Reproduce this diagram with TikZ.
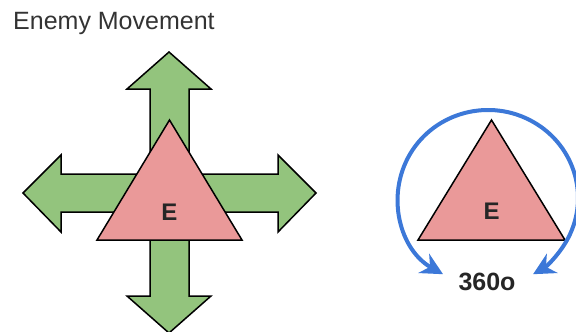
\documentclass[tikz,border=0pt]{standalone}
\usepackage{fontspec}
\setmainfont{Liberation Sans}
\usetikzlibrary{arrows.meta}
\definecolor{gfill}{HTML}{93C47D}
\definecolor{rfill}{HTML}{EA9999}
\definecolor{bline}{HTML}{3C78D8}
\definecolor{tgray}{HTML}{333333}
\tikzset{
  shapeline/.style={draw=black, line width=1.5pt, line join=miter},
  arrowshape/.style={shapeline, fill=gfill},
  tri/.style={shapeline, fill=rfill},
  label/.style={font=\bfseries\fontsize{24}{26}\selectfont, text=black!85},
  turn/.style={draw=bline, line width=4pt, {Stealth[length=22pt,width=22pt]}-{Stealth[length=22pt,width=22pt]}}
}
\begin{document}
\begin{tikzpicture}[x=1pt,y=-1pt]
\useasboundingbox (0,0) rectangle (576,332);
% title
\node[anchor=west, inner sep=0pt, text=tgray, font=\fontsize{25}{27}\selectfont] (title) at (13,23) {Enemy Movement};
% cross of arrows
\path[arrowshape] (169,52) -- (211,89) -- (189,89) -- (189,174) -- (278,174) -- (278,155)
  -- (316,193) -- (278,232) -- (278,212) -- (189,212) -- (189,296) -- (211,296)
  -- (169,333) -- (127,296) -- (150,296) -- (150,212) -- (61,212) -- (61,232)
  -- (23,193) -- (61,155) -- (61,174) -- (150,174) -- (150,89) -- (127,89) -- cycle;
% left triangle
\path[tri] (169.5,120) -- (242,240) -- (97,240) -- cycle;
\node[label] (e1) at (169.5,212) {E};
% right triangle
\path[tri] (491.5,120) -- (565,240) -- (418,240) -- cycle;
\node[label] (e2) at (491.5,211) {E};
% rotation arc
\draw[turn] (488,198) ++(120:90 and 88) arc[start angle=120, end angle=420, x radius=90, y radius=88];
\node[label, font=\bfseries\fontsize{25}{27}\selectfont] (deg) at (487,282) {360o};
\end{tikzpicture}
\end{document}
